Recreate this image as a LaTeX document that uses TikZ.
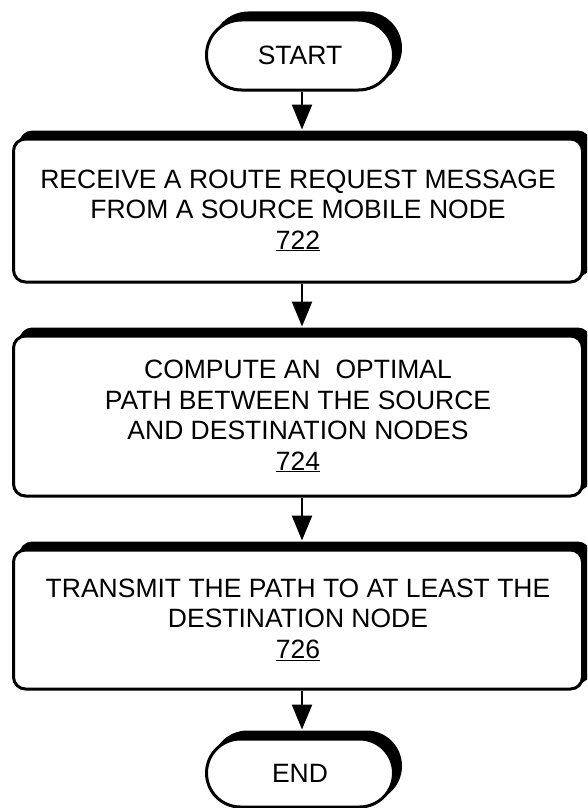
\documentclass[tikz,border=0pt]{standalone}
\usepackage{fontspec}
\setmainfont{Liberation Sans}
\usetikzlibrary{arrows.meta,shapes.misc,shadows}
\begin{document}
\begin{tikzpicture}[x=1pt,y=-1pt,
  sh/.style={general shadow={fill=black, draw=black, line width=3pt, shadow xshift=7pt, shadow yshift=7pt}},
  face/.style={draw=black, fill=white, line width=3pt, inner sep=0pt, sh,
    font=\fontsize{26.5}{30.5}\selectfont, align=center},
  term/.style={face, rounded rectangle, minimum width=187pt, minimum height=70pt},
  stepbox/.style={face, rectangle, rounded corners=12pt, minimum width=569pt},
  arr/.style={line width=2.5pt, -{Triangle[length=25pt,width=20pt]}, shorten >=8pt}
]
\useasboundingbox (0,0) rectangle (587,808);
\clip (0,0) rectangle (587,808);

\node[term] (start) at (300,55) {START};
\node[stepbox, minimum height=143pt] (b1) at (298,210.5)
  {RECEIVE A ROUTE REQUEST MESSAGE\\FROM A SOURCE MOBILE NODE\\\underline{722}};
\node[stepbox, minimum height=160pt] (b2) at (298,416)
  {COMPUTE AN~ OPTIMAL\\PATH BETWEEN THE SOURCE\\AND DESTINATION NODES\\\underline{724}};
\node[stepbox, minimum height=139pt] (b3) at (298,619.5)
  {TRANSMIT THE PATH TO AT LEAST THE\\DESTINATION NODE\\\underline{726}};
\node[term, minimum height=68pt] (end) at (300,773) {END};

\draw[arr] ([xshift=2pt]start.south) -- ([xshift=2pt]start.south |- b1.north);
\draw[arr] ([xshift=4pt]b1.south) -- ([xshift=4pt]b1.south |- b2.north);
\draw[arr] ([xshift=4pt]b2.south) -- ([xshift=4pt]b2.south |- b3.north);
\draw[arr] ([xshift=4pt]b3.south) -- ([xshift=4pt]b3.south |- end.north);
\end{tikzpicture}
\end{document}
